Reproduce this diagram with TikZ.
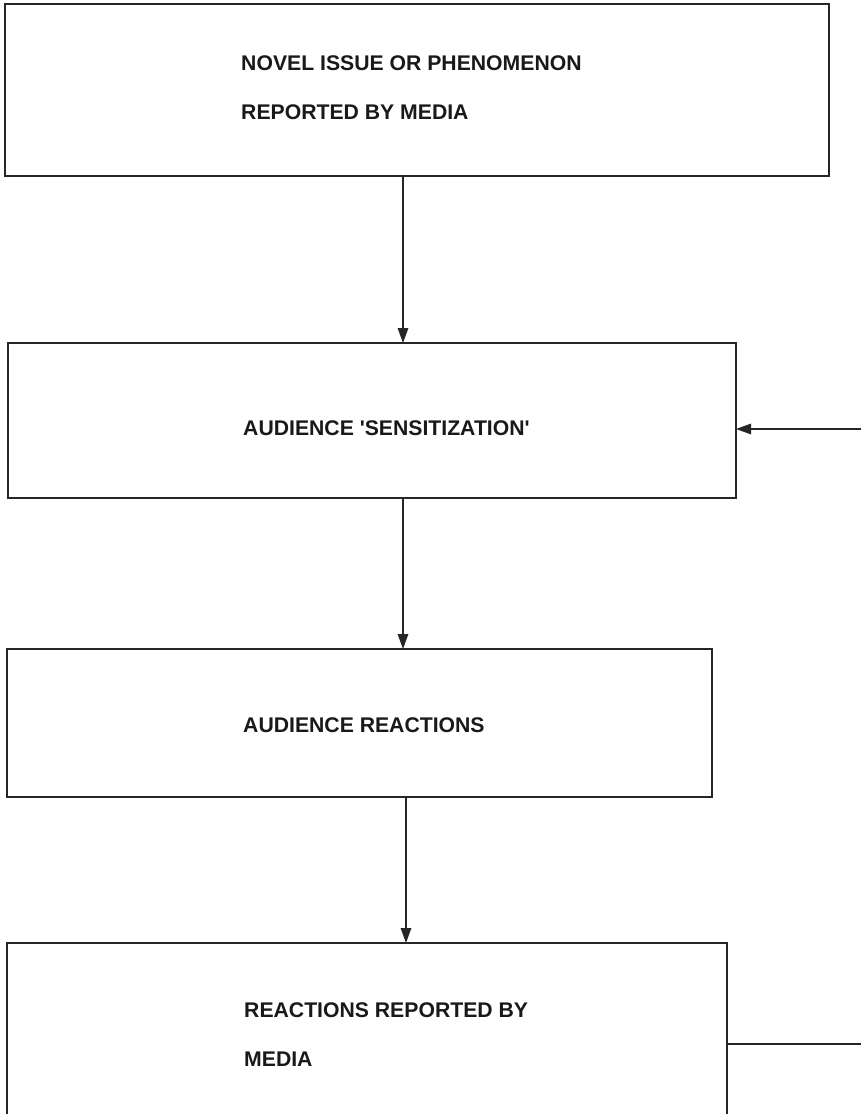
\documentclass[tikz,border=0pt]{standalone}
\usepackage{fontspec}
\setmainfont{Liberation Sans}
\usetikzlibrary{arrows.meta}
\begin{document}
\begin{tikzpicture}[x=1pt,y=-1pt,
  boxnode/.style={draw=black!85, line width=1.6pt, inner sep=0pt, outer sep=0pt, anchor=north west},
  lbl/.style={anchor=west, inner sep=0pt, font=\fontsize{21.2}{25}\selectfont\bfseries, text=black!90},
  conn/.style={draw=black!85, line width=1.5pt},
  arr/.style={conn, -{Triangle[length=15pt,width=10.5pt]}}]
\useasboundingbox (0,0) rectangle (861,1114);
\node[boxnode, minimum width=824pt, minimum height=172pt] (b1) at (5,4) {};
\node[boxnode, minimum width=728pt, minimum height=155pt] (b2) at (8,343) {};
\node[boxnode, minimum width=705pt, minimum height=148pt] (b3) at (7,649) {};
\node[boxnode, minimum width=720pt, minimum height=190pt] (b4) at (7,943) {};
\node[lbl] (t1a) at (241,63) {NOVEL ISSUE OR PHENOMENON};
\node[lbl] (t1b) at (241,112) {REPORTED BY MEDIA};
\node[lbl] (t2) at (243,428) {AUDIENCE \textquotesingle SENSITIZATION\textquotesingle};
\node[lbl] (t3) at (243,725) {AUDIENCE REACTIONS};
\node[lbl] (t4a) at (244,1010) {REACTIONS REPORTED BY};
\node[lbl] (t4b) at (244,1059) {MEDIA};
\coordinate (x1) at (403,0);
\coordinate (x2) at (406,0);
\coordinate (fbTop) at (861,429);
\coordinate (fbBot) at (861,1044);
\draw[arr] (b1.south -| x1) -- (b2.north -| x1);
\draw[arr] (b2.south -| x1) -- (b3.north -| x1);
\draw[arr] (b3.south -| x2) -- (b4.north -| x2);
\draw[conn] (b4.east |- fbBot) -- (fbBot);
\draw[arr] (fbTop) -- (b2.east |- fbTop);
\end{tikzpicture}
\end{document}
